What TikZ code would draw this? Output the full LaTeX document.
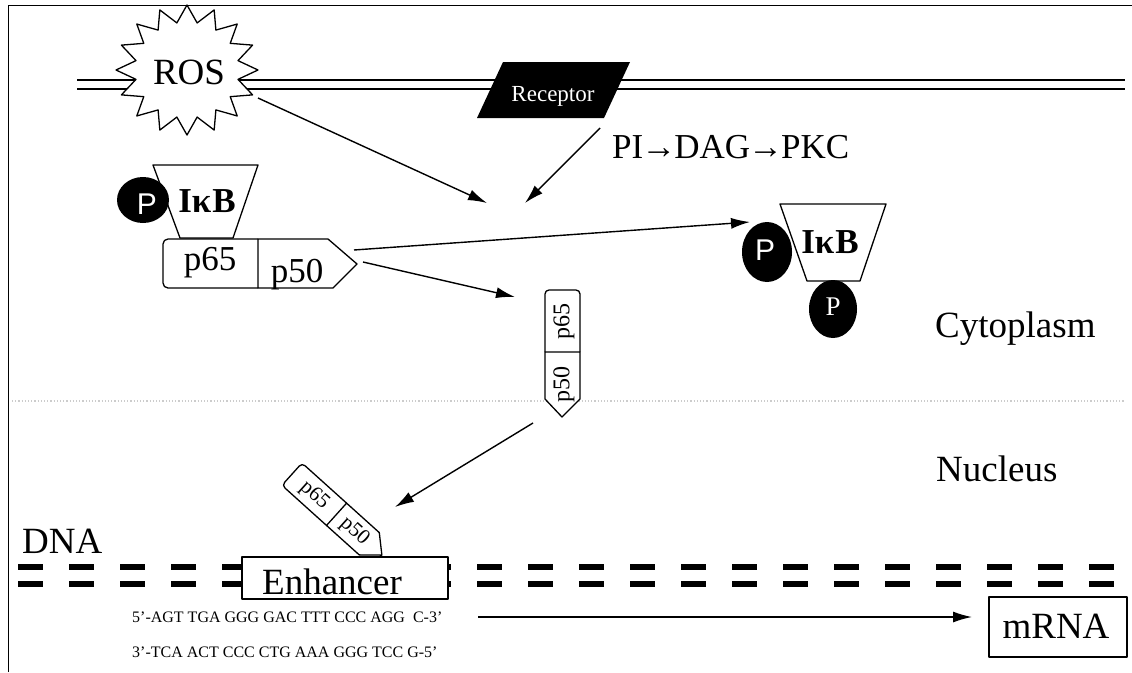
\documentclass[tikz,border=0pt]{standalone}
\usepackage{fontspec}
\setmainfont{Liberation Serif}
\newfontfamily\sansP{Liberation Sans}
\usetikzlibrary{arrows.meta,shapes.geometric}
\begin{document}
\begin{tikzpicture}[x=1pt,y=-1pt,line join=round,
  arr/.style={-{Latex[length=19pt,width=11pt]}, line width=1.4pt},
  shp/.style={line width=1.3pt, fill=white},
  big/.style={font=\fontsize{37}{40}\selectfont, inner sep=0, anchor=base},
  mid/.style={font=\fontsize{35}{38}\selectfont, inner sep=0, anchor=base},
  boldmid/.style={font=\bfseries\fontsize{35}{38}\selectfont, inner sep=0, anchor=base},
  small/.style={font=\fontsize{24}{26}\selectfont, inner sep=0},
  tiny/.style={font=\fontsize{21}{23}\selectfont, inner sep=0},
  seq/.style={font=\fontsize{16}{18}\selectfont, inner sep=0, anchor=base west},
  pball/.style={fill=black},
  ptext/.style={text=white, inner sep=0, font=\sansP\fontsize{30}{32}\selectfont},
  dnadash/.style={line width=5.5pt, dash pattern=on 25pt off 26pt},
]
\useasboundingbox (0,0) rectangle (1132,672);
% frame
\draw[line width=1pt] (8,672) -- (8,5) -- (1132,5);
% membrane
\draw[line width=1.2pt] (77,80) -- (1125,80);
\draw[line width=1.2pt] (77,89) -- (1125,89);
% cytoplasm / nucleus border
\draw[gray!40, dotted, line width=1.2pt] (12,401) -- (1125,401);

% ROS star
\draw[shp] (187,5) -- ({187+52*sin(11.25)},{70-48*cos(11.25)})
  \foreach \i in {1,...,15} { -- ({187+71*sin(\i*22.5)},{70-65*cos(\i*22.5)})
     -- ({187+52*sin(\i*22.5+11.25)},{70-48*cos(\i*22.5+11.25)}) } -- cycle;
\node[big] (ros) at (189,84) {ROS};
\coordinate (rosout) at (258,98);
\coordinate (tipA) at (487,203);

% Receptor
\fill (477,118) -- (503,62) -- (630,62) -- (604,118) -- cycle;
\node[inner sep=0, anchor=base, text=white, font=\fontsize{23}{25}\selectfont] (rec) at (553,101) {Receptor};
\coordinate (recout) at (600,128);
\coordinate (tipB) at (525,203);
\node[mid, anchor=base west] (pkc) at (612,158) {PI\kern-2pt→\kern-2ptDAG\kern-2pt→\kern-2ptPKC};

\draw[arr] (rosout) -- (tipA);
\draw[arr] (recout) -- (tipB);

% left complex
\fill[pball] (143,200) ellipse [x radius=26, y radius=23];
\node[ptext] (pl) at (147,204) {P};
\draw[line width=1.3pt] (153,165) -- (258,165) -- (233,238) -- (180,238) -- cycle;
\node[boldmid] (ikbl) at (207,212) {Iκ\kern1ptB};
\draw[shp, rounded corners=5pt] (258,239) -- (163,239) -- (163,288) -- (258,288);
\draw[line width=1.3pt] (258,239) -- (328,239) -- (357,264) -- (333,288) -- (258,288) -- cycle;
\node[mid] (p65a) at (210,270) {p65};
\node[mid] (p50a) at (297,282) {p50};
\coordinate (cxout1) at (354,250);
\coordinate (cxout2) at (363,262);

% right complex
\draw[line width=1.3pt] (780,204) -- (886,204) -- (860,281) -- (807,281) -- cycle;
\node[boldmid] (ikbr) at (830,253) {Iκ\kern1ptB};
\fill[pball] (767,252) ellipse [x radius=25, y radius=30];
\node[ptext] (pr1) at (765,250) {P};
\fill[pball] (833,309) ellipse [x radius=24, y radius=29];
\node[text=white, inner sep=0, font=\fontsize{27}{29}\selectfont] (pr2) at (833,307) {P};
\coordinate (tipC) at (750,222);
\draw[arr] (cxout1) -- (tipC);

% vertical complex
\coordinate (tipD) at (515,297);
\draw[arr] (cxout2) -- (tipD);
\draw[shp, rounded corners=4pt] (545,352) -- (545,290) -- (580,290) -- (580,352);
\draw[shp] (545,352) -- (545,399) -- (562,417) -- (580,399) -- (580,352) -- cycle;
\node[small, rotate=90] (p65b) at (564,321) {p65};
\node[small, rotate=90] (p50b) at (564,384) {p50};
\coordinate (vout) at (533,423);
\coordinate (tipE) at (395,507);
\draw[arr] (vout) -- (tipE);

% DNA
\draw[dnadash] (18,567) -- (1114,567);
\draw[dnadash] (18,584) -- (1114,584);
\node[big, anchor=base west] (dna) at (22,553) {DNA};

% tilted complex
\begin{scope}[shift={(302,463)}, rotate=-42]
  \draw[shp, rounded corners=4pt] (60,0) -- (0,0) -- (0,30) -- (60,30);
  \draw[shp] (60,0) -- (104,0) -- (121,15) -- (104,30) -- (60,30) -- cycle;
  \node[tiny, rotate=-42] (p65c) at (31,16) {p65};
  \node[tiny, rotate=-42] (p50c) at (85,16) {p50};
\end{scope}

% Enhancer
\draw[line width=1.3pt, fill=white] (242,557) rectangle (448,599);
\node[big, anchor=base west] (enh) at (262,594) {Enhancer};

% sequences
\node[seq] (s1) at (132,622) {5’-AGT TGA GGG GAC TTT CCC AGG\ \ C-3’};
\node[seq] (s2) at (132,657) {3’-TCA ACT CCC CTG AAA GGG TCC G-5’};

% mRNA
\draw[line width=1.3pt] (989,597) rectangle (1127,657);
\node[big] (mrna) at (1056,638) {mRNA};
\coordinate (tout) at (478,617);
\coordinate (tipF) at (972,617);
\draw[arr] (tout) -- (tipF);
\node[big, anchor=base west] (cyto) at (935,337) {Cytoplasm};
\node[big, anchor=base west] (nuc) at (936,481) {Nucleus};
\end{tikzpicture}
\end{document}
